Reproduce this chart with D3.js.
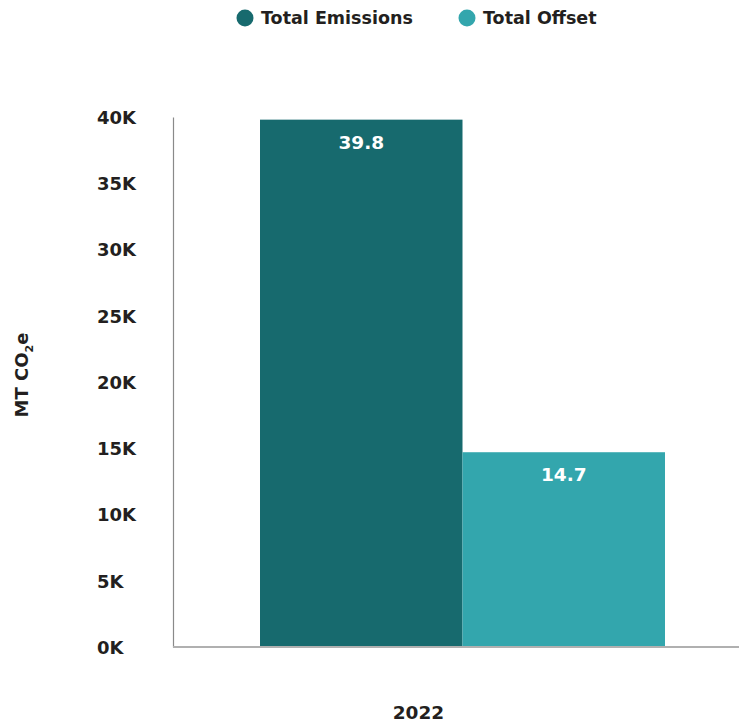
<!DOCTYPE html>
<html><head><meta charset="utf-8">
<script src="https://cdn.jsdelivr.net/npm/d3@7"></script>
<style>body{margin:0;background:#fff}svg{display:block}</style>
</head><body>
<svg id="c" width="739" height="727"></svg>
<script>
const categories = ["2022"];
const seriesNames = ["Total Emissions", "Total Offset"];
const seriesColors = ["#176a6e", "#33a6ad"];
const emissions = [39.8];
const offset = [14.7];
const yTicks = [0, 5, 10, 15, 20, 25, 30, 35, 40];
const yTickLabels = ["0K","5K","10K","15K","20K","25K","30K","35K","40K"];

const svg = d3.select("#c");
const font = "'DejaVu Sans', sans-serif";
const ink = "#231f20";
const m = {left: 173, right: 739, top: 117, bottom: 647};

const y = d3.scaleLinear().domain([0, 40]).range([m.bottom, m.top]);
const x0 = d3.scaleBand().domain(categories).range([260, 665]).padding(0);
const x1 = d3.scaleBand().domain(seriesNames).range([0, x0.bandwidth()]).padding(0);

const data = categories.map((c, i) => ({cat: c, vals: [emissions[i], offset[i]]}));

// bars
const g = svg.append("g");
data.forEach(d => {
  d.vals.forEach((v, j) => {
    const bx = x0(d.cat) + x1(seriesNames[j]);
    g.append("rect").attr("x", bx).attr("y", y(v)).attr("width", x1.bandwidth()).attr("height", y(0) - y(v)).attr("fill", seriesColors[j]);
    g.append("text").attr("x", bx + x1.bandwidth()/2).attr("y", y(v) + 29)
      .attr("text-anchor", "middle").attr("fill", "#fff").attr("font-family", font).attr("font-weight", 700).attr("font-size", 18.5)
      .text(v.toFixed(1));
  });
});

// y axis
const yAxis = d3.axisLeft(y).tickValues(yTicks).tickSize(0).tickFormat((d, i) => yTickLabels[i]);
const ya = svg.append("g").attr("transform", `translate(${m.left},0)`).call(yAxis);
ya.select(".domain").attr("stroke", "#8a8a8a").attr("stroke-width", 1.2);
ya.selectAll("text").attr("x", 97 - m.left).attr("text-anchor", "start").attr("dy", "0.36em")
  .attr("font-family", font).attr("font-weight", 700).attr("font-size", 18).attr("fill", ink);

// x axis
const xAxis = d3.axisBottom(x0).tickSize(0).tickFormat(() => "");
const xa = svg.append("g").attr("transform", `translate(0,${m.bottom})`).call(xAxis);
xa.select(".domain").attr("d", `M${m.left},0H${m.right}`).attr("stroke", "#b0b0b0").attr("stroke-width", 2);
svg.append("text").attr("x", x0(categories[0]) + x0.bandwidth()/2 - 44).attr("y", 719)
  .attr("text-anchor", "middle").attr("font-family", font).attr("font-weight", 700).attr("font-size", 18.5).attr("fill", ink)
  .text(categories[0]);

// y title
const yt = svg.append("text").attr("transform", "translate(28,375) rotate(-90)").attr("text-anchor", "middle")
  .attr("font-family", font).attr("font-weight", 700).attr("font-size", 18).attr("fill", ink);
yt.append("tspan").text("MT CO");
yt.append("tspan").attr("font-size", 11).attr("dy", 5).text("2");
yt.append("tspan").attr("dy", -5).text("e");

// legend
const legX = [245, 467];
seriesNames.forEach((s, j) => {
  svg.append("circle").attr("cx", legX[j]).attr("cy", 18).attr("r", 8.5).attr("fill", seriesColors[j]);
  svg.append("text").attr("x", legX[j] + 16).attr("y", 18).attr("dy", "0.36em")
    .attr("font-family", font).attr("font-weight", 700).attr("font-size", 17.5).attr("fill", ink).text(s);
});
</script>
</body></html>
